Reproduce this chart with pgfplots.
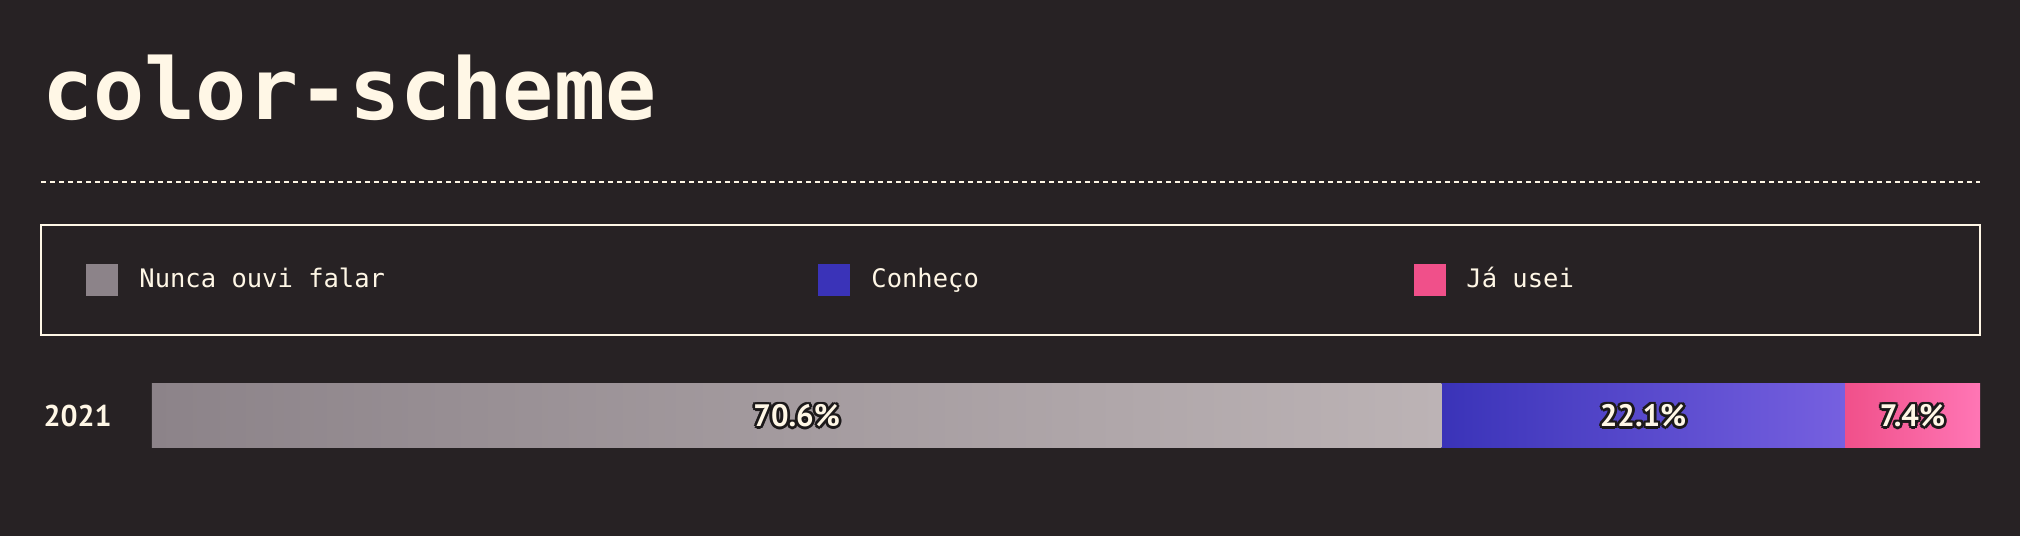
\documentclass[border=0pt]{standalone}
\usepackage{pgfplots}
\pgfplotsset{compat=1.18}
\usepackage{fontspec}
\setmainfont{DejaVu Sans Mono}
\newfontfamily\numfont{PT Sans}

\definecolor{bg}{HTML}{272224}
\definecolor{cream}{HTML}{FFF7E6}
\definecolor{ink}{HTML}{1C191A}
\definecolor{grayA}{HTML}{8C8389}
\definecolor{grayB}{HTML}{BCB3B5}
\definecolor{blueA}{HTML}{3A33B8}
\definecolor{blueB}{HTML}{7660E0}
\definecolor{pinkA}{HTML}{F0508A}
\definecolor{pinkB}{HTML}{FF76B5}

% outlined label: dark copies around, cream on top
\makeatletter
\def\o@#1#2#3{\rlap{\kern#1\raise#2\hbox{\color{ink}#3}}}
\newcommand\outl[1]{\leavevmode
  \o@{-1.4pt}{0pt}{#1}\o@{1.4pt}{0pt}{#1}%
  \o@{0pt}{1.4pt}{#1}\o@{0pt}{-1.4pt}{#1}%
  \o@{-1pt}{1pt}{#1}\o@{1pt}{1pt}{#1}%
  \o@{-1pt}{-1pt}{#1}\o@{1pt}{-1pt}{#1}%
  \hbox{\color{cream}#1}}
\makeatother

\tikzset{pct/.style={anchor=center, inner sep=0pt,
    font=\numfont\bfseries\fontsize{15.5}{16}\selectfont}}

\begin{document}
\begin{tikzpicture}
  \fill[bg] (0,0) rectangle (1010pt,268pt);

  % title and separator
  \node[anchor=base west, inner sep=0pt, text=cream,
        font=\bfseries\fontsize{42.5}{44}\selectfont] at (21pt,208pt) {color-scheme};
  \draw[cream, line width=1pt, dash pattern=on 2.5pt off 2pt] (20.5pt,177pt) -- (990pt,177pt);

  % legend box
  \draw[cream, line width=1pt] (20.5pt,100.5pt) rectangle (990pt,155.5pt);
  \fill[grayA] (43pt,120pt) rectangle (59pt,136pt);
  \fill[blueA] (409pt,120pt) rectangle (425pt,136pt);
  \fill[pinkA] (707pt,120pt) rectangle (723pt,136pt);
  \begin{scope}[every node/.style={anchor=base west, inner sep=0pt, text=cream,
        font=\fontsize{12.75}{14}\selectfont}]
    \node at (69.5pt,124pt) {Nunca ouvi falar};
    \node at (435.5pt,124pt) {Conheço};
    \node at (733pt,124pt) {Já usei};
  \end{scope}

  \begin{axis}[
      at={(76pt,44pt)}, anchor=south west,
      scale only axis, width=914pt, height=32pt,
      xbar stacked, bar width=32pt,
      xmin=0, xmax=100.1, ymin=-0.5, ymax=0.5,
      axis line style={draw=none}, tick style={draw=none},
      major tick length=0pt,
      xtick=\empty, ytick={0}, yticklabels={2021},
      yticklabel style={font=\numfont\bfseries\fontsize{15}{16}\selectfont,
        text=cream, inner sep=0pt, xshift=-20pt},
      clip=false,
    ]
    \addplot[draw=none, left color=grayA, right color=grayB] coordinates {(70.6,0)};
    \addplot[draw=none, left color=blueA, right color=blueB] coordinates {(22.1,0)};
    \addplot[draw=none, left color=pinkA, right color=pinkB] coordinates {(7.4,0)};
    % middle of each segment, labelled after the axis so they sit on top
    \coordinate (m1) at (axis cs:35.3,0);
    \coordinate (m2) at (axis cs:81.65,0);
    \coordinate (m3) at (axis cs:96.4,0);
  \end{axis}
  \node[pct] at (m1) {\outl{70.6\%}};
  \node[pct] at (m2) {\outl{22.1\%}};
  \node[pct] at (m3) {\outl{7.4\%}};
\end{tikzpicture}
\end{document}
